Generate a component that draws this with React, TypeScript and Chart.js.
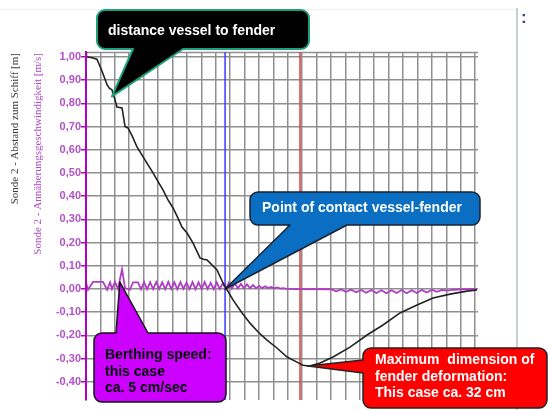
import React, { useEffect, useRef } from 'react';
import { Chart, registerables } from 'chart.js';

Chart.register(...registerables);

// ---- data (x = time grid units, y = metres / metres per second) ----
const distanceX = [0, 0.03, 0.42, 0.76, 1.1, 1.46, 1.62, 1.8, 2.01, 2.15, 2.5, 2.71, 2.91, 3.2, 3.54, 3.96, 4.25, 4.65, 4.93, 5.34, 5.69, 6.04, 6.35, 6.66, 7.01, 7.43, 7.91, 8.15, 8.4, 9.09, 9.51, 9.79, 10.2, 10.83, 11.38, 11.94, 12.56, 13.25, 13.95, 14.64, 15.06, 15.54, 16.24, 17.14, 18.32, 19.5, 20.61, 21.79, 22.97, 24.08, 25.26, 26.44, 27.13];
const distanceY = [1.04, 1.0, 0.996, 0.99, 0.94, 0.88, 0.865, 0.858, 0.815, 0.784, 0.78, 0.7, 0.694, 0.66, 0.612, 0.569, 0.54, 0.5, 0.47, 0.427, 0.384, 0.349, 0.31, 0.267, 0.241, 0.198, 0.134, 0.128, 0.125, 0.082, 0.026, -0.004, -0.047, -0.103, -0.147, -0.185, -0.22, -0.254, -0.293, -0.315, -0.328, -0.332, -0.319, -0.293, -0.25, -0.198, -0.155, -0.103, -0.069, -0.039, -0.022, -0.009, -0.004];

const speedX = [0, 0.14, 0.49, 1.18, 1.46, 1.67, 1.8, 2.01, 2.22, 2.5, 2.71, 3.05, 3.26, 3.61, 3.82, 4.03, 4.24, 4.45, 4.66, 4.87, 5.08, 5.29, 5.5, 5.71, 5.92, 6.13, 6.34, 6.55, 6.76, 6.97, 7.18, 7.39, 7.6, 7.81, 8.02, 8.23, 8.44, 8.65, 8.86, 9.07, 9.28, 9.49, 9.7, 9.91, 10.12, 10.33, 10.54, 10.75, 10.96, 11.17, 11.38, 11.59, 11.8, 12.01, 12.22, 12.43, 12.64, 12.85, 13.06, 13.27, 13.48, 13.69, 13.9, 14.5, 17.0, 17.35, 17.7, 18.05, 18.4, 18.75, 19.1, 19.45, 19.8, 20.15, 20.5, 20.85, 21.2, 21.55, 21.9, 22.25, 22.6, 22.95, 23.3, 23.65, 24.0, 24.35, 24.7, 25.1, 25.5, 26.2, 27.13];
const speedY = [0.028, -0.003, 0.031, 0.031, -0.003, 0.029, 0.0, 0.031, 0.0, 0.085, 0.004, -0.003, 0.029, 0.029, -0.001, 0.03, -0.001, 0.029, 0.0, 0.03, 0.001, 0.029, -0.001, 0.031, 0.0, 0.029, -0.001, 0.03, 0.001, 0.028, 0.0, 0.03, -0.001, 0.029, 0.0, 0.03, 0.001, 0.027, 0.0, 0.029, 0.0, 0.025, -0.002, 0.028, 0.002, 0.025, 0.003, 0.022, 0.003, 0.02, 0.004, 0.017, 0.004, 0.014, 0.004, 0.012, 0.004, 0.009, 0.003, 0.007, 0.002, 0.004, 0.001, 0.0, -0.001, -0.01, -0.002, -0.012, -0.003, -0.014, -0.004, -0.016, -0.004, -0.017, -0.005, -0.018, -0.005, -0.017, -0.004, -0.018, -0.005, -0.017, -0.004, -0.015, -0.003, -0.012, -0.004, -0.007, -0.003, -0.001, 0.0];

const contactX = 9.65;      // blue marker: point of contact
const maxDeformX = 14.85;   // red marker: maximum deformation
const xMin = 0;
const xMax = 27.2;
const yMin = -0.478;
const yMax = 1.021;

const titleDistance = 'Sonde 2 - Abstand zum Schiff [m]';
const titleSpeed = 'Sonde 2 - Annäherungsgeschwindigkeit [m/s]';

const callouts = [
  {
    lines: ['distance vessel to fender'],
    box: [97, 10, 212, 39], side: 'bottom', base: [133, 183], tip: [1.8, 0.83],
    fill: '#000000', stroke: '#1f9e7c', strokeW: 2, color: '#ffffff', tx: 108, ty: [31],
  },
  {
    lines: ['Point of contact vessel-fender'],
    box: [250, 192, 230, 33], side: 'bottom', base: [290, 347], tip: [contactX, 0.0],
    fill: '#0a6fc2', stroke: '#1b2230', strokeW: 1.5, color: '#ffffff', tx: 262, ty: [208],
  },
  {
    lines: ['Berthing speed:', 'this case', 'ca. 5 cm/sec'],
    box: [94, 333, 132, 69], side: 'top', base: [116, 148], tip: [2.35, 0.03],
    fill: '#cc00ff', stroke: '#111111', strokeW: 1.5, color: '#000000', tx: 105, ty: [355, 372, 388],
  },
  {
    lines: ['Maximum  dimension of', 'fender deformation:', 'This case ca. 32 cm'],
    box: [363, 348, 184, 60], side: 'left', base: [360, 373], tip: [15.4, -0.332],
    fill: '#ff0000', stroke: '#222222', strokeW: 1.5, color: '#ffffff', tx: 375, ty: [360, 377, 393],
  },
];

function calloutPath(ctx: CanvasRenderingContext2D, c: any, tipX: number, tipY: number) {
  const [x, y, w, h] = c.box;
  const r = 8;
  const [b1, b2] = c.base;
  ctx.beginPath();
  ctx.moveTo(x + r, y);
  if (c.side === 'top') {
    ctx.lineTo(b1, y); ctx.lineTo(tipX, tipY); ctx.lineTo(b2, y);
  }
  ctx.lineTo(x + w - r, y);
  ctx.arcTo(x + w, y, x + w, y + r, r);
  ctx.lineTo(x + w, y + h - r);
  ctx.arcTo(x + w, y + h, x + w - r, y + h, r);
  if (c.side === 'bottom') {
    ctx.lineTo(b2, y + h); ctx.lineTo(tipX, tipY); ctx.lineTo(b1, y + h);
  }
  ctx.lineTo(x + r, y + h);
  ctx.arcTo(x, y + h, x, y + h - r, r);
  if (c.side === 'left') {
    ctx.lineTo(x, b2); ctx.lineTo(tipX, tipY); ctx.lineTo(x, b1);
  }
  ctx.lineTo(x, y + r);
  ctx.arcTo(x, y, x + r, y, r);
  ctx.closePath();
}

const decorPlugin = {
  id: 'decor',
  beforeDatasetsDraw(chart: any) {
    const { ctx, chartArea } = chart;
    ctx.save();
    ctx.strokeStyle = '#8f8f8f';
    ctx.lineWidth = 1.5;
    ctx.beginPath();
    ctx.moveTo(chartArea.left, chartArea.top + 0.5);
    ctx.lineTo(chartArea.right, chartArea.top + 0.5);
    ctx.stroke();
    ctx.restore();
  },
  afterDraw(chart: any) {
    const { ctx } = chart;
    const xs = chart.scales.x;
    const ys = chart.scales.y;
    ctx.save();
    // page frame
    ctx.strokeStyle = '#f0f0f0';
    ctx.lineWidth = 1;
    ctx.beginPath();
    ctx.moveTo(0, 9.5); ctx.lineTo(517, 9.5);
    ctx.stroke();
    ctx.strokeStyle = '#c9cdd4';
    ctx.lineWidth = 2;
    ctx.beginPath();
    ctx.moveTo(517, 8); ctx.lineTo(517, 410);
    ctx.stroke();
    ctx.fillStyle = '#2b4a86';
    ctx.font = 'bold 17px "Liberation Sans", Arial, sans-serif';
    ctx.textAlign = 'left';
    ctx.textBaseline = 'middle';
    ctx.fillText(':', 521, 18);

    // axis titles
    ctx.font = '11px "Liberation Serif", "Times New Roman", serif';
    ctx.textBaseline = 'middle';
    ctx.textAlign = 'right';
    ctx.fillStyle = '#3a3a3a';
    ctx.save();
    ctx.translate(15, 53);
    ctx.rotate(-Math.PI / 2);
    ctx.fillText(titleDistance, 0, 0);
    ctx.restore();
    ctx.fillStyle = '#b04cc4';
    ctx.save();
    ctx.translate(38, 53);
    ctx.rotate(-Math.PI / 2);
    ctx.fillText(titleSpeed, 0, 0);
    ctx.restore();

    // callouts
    for (const c of callouts) {
      const tipX = xs.getPixelForValue(c.tip[0]);
      const tipY = ys.getPixelForValue(c.tip[1]);
      calloutPath(ctx, c, tipX, tipY);
      ctx.fillStyle = c.fill;
      ctx.fill();
      ctx.lineWidth = c.strokeW;
      ctx.strokeStyle = c.stroke;
      ctx.lineJoin = 'round';
      ctx.stroke();
      ctx.fillStyle = c.color;
      ctx.font = 'bold 14px "Liberation Sans", Arial, sans-serif';
      ctx.textAlign = 'left';
      ctx.textBaseline = 'middle';
      c.lines.forEach((t: string, i: number) => ctx.fillText(t, c.tx, c.ty[i]));
    }
    ctx.restore();
  },
};

export default function App() {
  const ref = useRef<HTMLCanvasElement>(null);
  useEffect(() => {
    if (!ref.current) return;
    const distance = distanceX.map((x, i) => ({ x, y: distanceY[i] }));
    const speed = speedX.map((x, i) => ({ x, y: speedY[i] }));
    const chart = new Chart(ref.current, {
      type: 'line',
      data: {
        datasets: [
          { label: 'Abstand', data: distance, borderColor: '#222222', borderWidth: 1.6, pointRadius: 0, tension: 0 },
          { label: 'Geschwindigkeit', data: speed, borderColor: '#b03cc4', borderWidth: 1.8, pointRadius: 0, tension: 0 },
          { label: 'contact', data: [{ x: contactX, y: yMin }, { x: contactX, y: yMax }], borderColor: '#3a3aff', borderWidth: 1.5, pointRadius: 0 },
          { label: 'max', data: [{ x: maxDeformX, y: yMin }, { x: maxDeformX, y: yMax }], borderColor: '#e03a3a', borderWidth: 1.5, pointRadius: 0 },
        ],
      },
      options: {
        responsive: false,
        animation: false,
        events: [],
        layout: { padding: { left: 0, top: 52, right: 70, bottom: 10 } },
        plugins: { legend: { display: false }, tooltip: { enabled: false } },
        scales: {
          x: {
            type: 'linear',
            min: xMin,
            max: xMax,
            ticks: { display: false, stepSize: 1, includeBounds: false },
            grid: { color: '#8f8f8f', lineWidth: 1.5, drawTicks: false },
            border: { display: false },
            afterFit: (s: any) => { s.height = 0; },
          },
          y: {
            type: 'linear',
            min: yMin,
            max: yMax,
            ticks: {
              stepSize: 0.1,
              includeBounds: false,
              padding: 0,
              color: '#b450c8',
              font: { family: '"Liberation Sans", Arial, sans-serif', size: 11, weight: 'bold' },
              callback: (v: any) => Number(v).toFixed(2).replace('.', ','),
            },
            grid: { color: '#8f8f8f', lineWidth: 1.5, tickColor: '#b000c0', tickLength: 5, tickWidth: 1.5 },
            border: { display: true, color: '#b000c0', width: 2, z: 1 },
            afterFit: (s: any) => { s.width = 86; },
          },
        },
      },
      plugins: [decorPlugin],
    } as any);
    return () => chart.destroy();
  }, []);
  return (
    <div style={{ position: 'fixed', left: 0, top: 0, width: 548, height: 410, background: '#ffffff' }}>
      <canvas ref={ref} width={548} height={410} style={{ width: 548, height: 410, display: 'block' }} />
    </div>
  );
}
